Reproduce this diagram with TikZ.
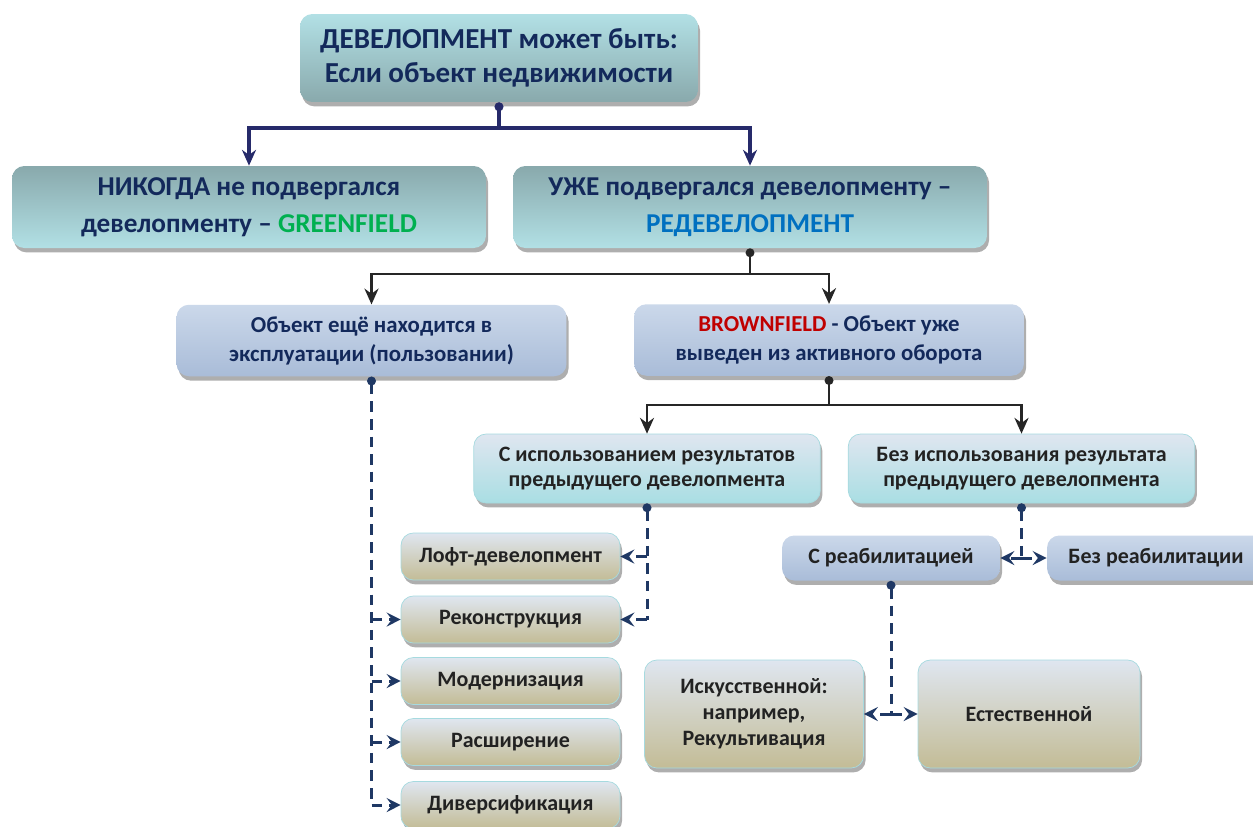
\documentclass[tikz,border=0pt]{standalone}
\usepackage{fontspec}
\setmainfont{Carlito}
\usetikzlibrary{arrows.meta,positioning,calc,shadows}

\definecolor{navytext}{HTML}{13295B}
\definecolor{darktext}{HTML}{222222}
\definecolor{tealhi}{HTML}{B2E0E5}
\definecolor{teallo}{HTML}{89A9AC}
\definecolor{bluehi}{HTML}{CBD8EA}
\definecolor{bluelo}{HTML}{A9BCD8}
\definecolor{palehi}{HTML}{DFE6F0}
\definecolor{cyanlo}{HTML}{A9DEE3}
\definecolor{tanlo}{HTML}{C3BC96}
\definecolor{rimcyan}{HTML}{A6DADF}
\definecolor{linenavy}{HTML}{262A6A}
\definecolor{linedark}{HTML}{262626}
\definecolor{dashnavy}{HTML}{1F3864}
\definecolor{greenword}{HTML}{00B050}
\definecolor{blueword}{HTML}{0070C0}
\definecolor{redword}{HTML}{C00000}

\begin{document}
\begin{tikzpicture}[x=0.02cm,y=-0.02cm,>=Stealth,
  box/.style={rounded corners=7pt,inner sep=2pt,align=center,
    drop shadow={shadow xshift=1.2pt,shadow yshift=-2.5pt,opacity=0.45,fill=black!70}},
  headbox/.style={box,top color=tealhi,bottom color=teallo,text=navytext,
    font=\fontsize{16.5}{19}\selectfont\bfseries},
  kindbox/.style={box,top color=teallo,bottom color=tealhi,text=navytext,
    font=\fontsize{15.5}{21}\selectfont\bfseries,minimum width=9.48cm,minimum height=1.64cm},
  statebox/.style={box,top color=bluehi,bottom color=bluelo,text=navytext,
    font=\fontsize{13}{16.5}\selectfont\bfseries,minimum width=7.8cm,minimum height=1.43cm},
  usebox/.style={box,top color=palehi,bottom color=cyanlo,draw=rimcyan,text=darktext,
    font=\fontsize{12.5}{14.5}\selectfont\bfseries,minimum width=6.93cm,minimum height=1.38cm},
  rehabbox/.style={box,top color=bluehi,bottom color=bluelo,text=darktext,
    font=\fontsize{12.5}{14.5}\selectfont\bfseries,minimum width=4.36cm,minimum height=0.9cm},
  leafbox/.style={box,top color=palehi,bottom color=tanlo,draw=rimcyan,text=darktext,
    font=\fontsize{12.5}{14.8}\selectfont\bfseries,minimum width=4.38cm,minimum height=0.94cm},
  navylink/.style={draw=linenavy,line width=2.2pt},
  darklink/.style={draw=linedark,line width=1.3pt},
  dashlink/.style={draw=dashnavy,line width=1.7pt,dash pattern=on 6pt off 4pt},
  tipnavy/.style={-{Stealth[length=9pt,width=8pt]}},
  tipdash/.style={-{Stealth[length=8pt,width=8pt,inset=3pt]}},
  dot/.style={{Circle[length=5pt]}-}]
\useasboundingbox (0,0) rectangle (1253,826);

% levels
\node[headbox,minimum width=7.96cm,minimum height=1.76cm] (dev) at (499,58)
  {ДЕВЕЛОПМЕНТ может быть:\\Если объект недвижимости};
\node[kindbox] (never) at (249,207)
  {НИКОГДА не подвергался\\девелопменту – \textcolor{greenword}{GREENFIELD}};
\node[kindbox] (redev) at (750,207)
  {УЖЕ подвергался девелопменту –\\\textcolor{blueword}{РЕДЕВЕЛОПМЕНТ}};
\node[statebox] (inuse) at (371.5,340.5)
  {Объект ещё находится в\\эксплуатации (пользовании)};
\node[statebox] (brown) at (829,340)
  {\textcolor{redword}{BROWNFIELD} - Объект уже\\выведен из активного оборота};
\node[usebox] (withres) at (647,468.5)
  {С использованием результатов\\предыдущего девелопмента};
\node[usebox] (nores) at (1021.5,468.5)
  {Без использования результата\\предыдущего девелопмента};

% kinds of redevelopment
\foreach \n/\y/\t in {loft/556.5/Лофт-девелопмент,recon/619.5/Реконструкция,
  modern/681/Модернизация,expand/742/Расширение,divers/805/Диверсификация}
  \node[leafbox] (\n) at (510.5,\y) {\t};

\node[rehabbox] (rehab) at (891,558) {С реабилитацией};
\node[rehabbox] (norehab) at (1156,558) {Без реабилитации};
\node[leafbox,minimum height=2.16cm] (artif) at (754,714)
  {Искусственной:\\например,\\Рекультивация};
\node[leafbox,minimum width=4.44cm,minimum height=2.16cm] (natur) at (1029,714)
  {Естественной};

% solid links
\draw[navylink,dot] (dev.south) -- ++(0,26) coordinate (j1);
\draw[navylink,tipnavy] (j1) -| (never.north);
\draw[navylink,tipnavy] (j1) -| (redev.north);
\draw[darklink,dot] (redev.south) -- ++(0,26) coordinate (j2);
\draw[darklink,tipnavy] (j2) -| (inuse.north);
\draw[darklink,tipnavy] (j2) -| (brown.north);
\draw[darklink,dot] (brown.south) -- ++(0,29) coordinate (j3);
\draw[darklink,tipnavy] (j3) -| (withres.north);
\draw[darklink,tipnavy] (j3) -| (nores.north);

% dashed links
\draw[dashlink,dot] (inuse.south) -- (inuse.south |- divers.west);
\foreach \n in {recon,modern,expand,divers}
  \draw[dashlink,tipdash] (inuse.south |- \n.west) -- (\n.west);
\draw[dashlink,dot] (withres.south) -- (withres.south |- recon.east);
\foreach \n in {loft,recon}
  \draw[dashlink,tipdash] (withres.south |- \n.east) -- (\n.east);
\draw[dashlink,dot] (nores.south) -- (nores.south |- rehab.east) coordinate (j4);
\draw[dashlink,tipdash] (j4) -- (rehab.east);
\draw[dashlink,tipdash] (j4) -- (norehab.west);
\draw[dashlink,dot] (rehab.south) -- (rehab.south |- artif.east) coordinate (j5);
\draw[dashlink,tipdash] (j5) -- (artif.east);
\draw[dashlink,tipdash] (j5) -- (natur.west);
\end{tikzpicture}
\end{document}
